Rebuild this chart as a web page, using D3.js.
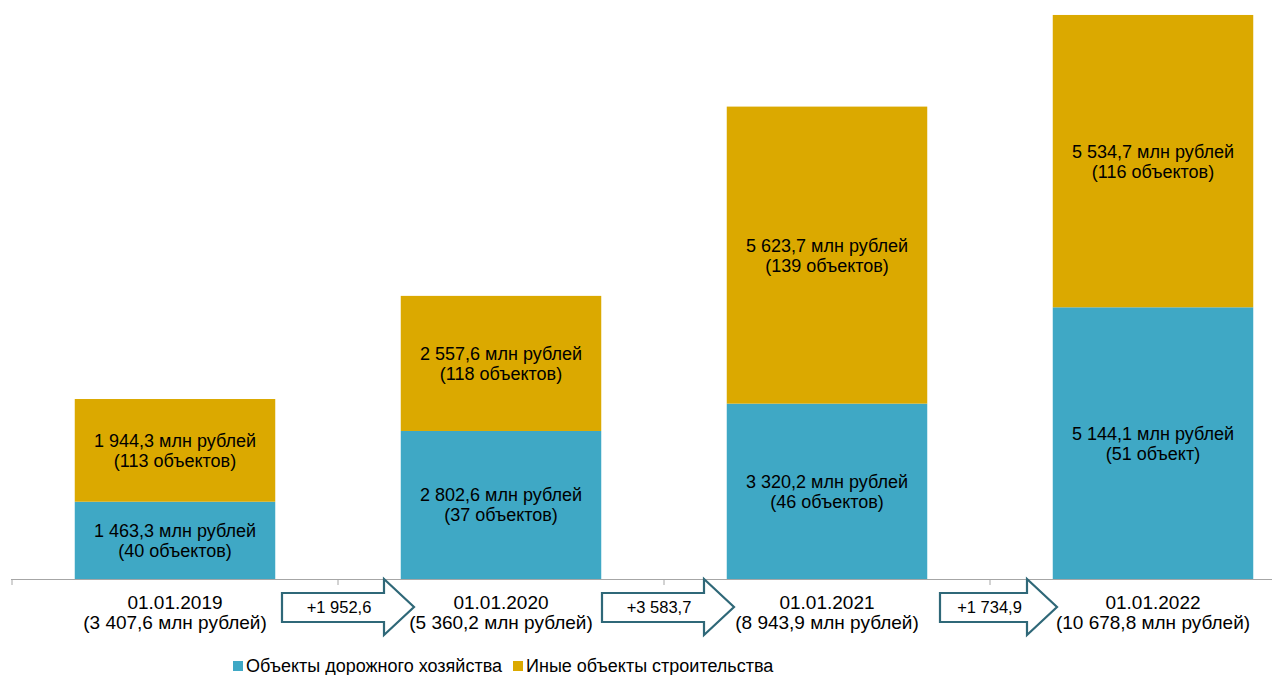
<!DOCTYPE html>
<html>
<head>
<meta charset="utf-8">
<script src="https://cdn.jsdelivr.net/npm/d3@7"></script>
<style>
  body { margin: 0; background: #fff; }
  svg text { font-family: "Liberation Sans", Arial, sans-serif; fill: #000; }
</style>
</head>
<body>
<div id="chart"></div>
<script>
(function () {
  'use strict';

  var categories = ['01.01.2019', '01.01.2020', '01.01.2021', '01.01.2022'];
  var totals = ['3 407,6', '5 360,2', '8 943,9', '10 678,8'];
  var roadValues = [1463.3, 2802.6, 3320.2, 5144.1];
  var roadCounts = ['40 объектов', '37 объектов', '46 объектов', '51 объект'];
  var otherValues = [1944.3, 2557.6, 5623.7, 5534.7];
  var otherCounts = ['113 объектов', '118 объектов', '139 объектов', '116 объектов'];
  var increments = ['+1 952,6', '+3 583,7', '+1 734,9'];
  var seriesNames = ['Объекты дорожного хозяйства', 'Иные объекты строительства'];

  var colors = ['#3fa8c5', '#dba900'];
  var fmt = function (v) {
    return d3.format(',.1f')(v).replace(/,/g, ' ').replace('.', ',');
  };

  var width = 1274, height = 675;
  var svg = d3.select('#chart').append('svg')
      .attr('width', width)
      .attr('height', height);

  // plot area runs a bit past the right edge, as in the original
  var x = d3.scaleBand()
      .domain(categories)
      .range([12, 1316])
      .paddingInner(0.385)
      .paddingOuter(0.1925);

  var y = d3.scaleLinear()
      .domain([0, 11000])
      .range([579, -2]);

  var rows = categories.map(function (c, i) {
    return { cat: c, road: roadValues[i], other: otherValues[i] };
  });
  var stack = d3.stack().keys(['road', 'other'])(rows);
  var counts = [roadCounts, otherCounts];

  stack.forEach(function (layer, k) {
    var g = svg.append('g');
    g.selectAll('rect')
      .data(layer)
      .enter().append('rect')
        .attr('x', function (d) { return x(d.data.cat); })
        .attr('y', function (d) { return y(d[1]); })
        .attr('width', x.bandwidth())
        .attr('height', function (d) { return y(d[0]) - y(d[1]); })
        .attr('fill', colors[k]);

    var t = g.selectAll('text')
      .data(layer)
      .enter().append('text')
        .attr('text-anchor', 'middle')
        .attr('font-size', 18)
        .attr('transform', function (d) {
          return 'translate(' + (x(d.data.cat) + x.bandwidth() / 2) + ',' +
            ((y(d[0]) + y(d[1])) / 2) + ')';
        });
    t.append('tspan')
      .attr('x', 0).attr('y', -3.5)
      .text(function (d) { return fmt(d.data[k === 0 ? 'road' : 'other']) + ' млн рублей'; });
    t.append('tspan')
      .attr('x', 0).attr('y', 16.5)
      .text(function (d, i) { return '(' + counts[k][i] + ')'; });
  });

  // axis line with category dividers
  svg.append('line')
    .attr('x1', 11).attr('x2', 1272)
    .attr('y1', 579.5).attr('y2', 579.5)
    .attr('stroke', '#a6a6a6').attr('stroke-width', 1.2);
  var step = x.step();
  d3.range(categories.length).forEach(function (i) {
    var bx = x(categories[0]) - (step - x.bandwidth()) / 2 + i * step;
    svg.append('line')
      .attr('x1', bx).attr('x2', bx)
      .attr('y1', 579).attr('y2', 585)
      .attr('stroke', '#a6a6a6');
  });

  // category labels
  var cl = svg.selectAll('.cat')
    .data(categories)
    .enter().append('text')
      .attr('class', 'cat')
      .attr('text-anchor', 'middle')
      .attr('font-size', 19)
      .attr('transform', function (d) {
        return 'translate(' + (x(d) + x.bandwidth() / 2) + ',0)';
      });
  cl.append('tspan').attr('x', 0).attr('y', 609).text(function (d) { return d; });
  cl.append('tspan').attr('x', 0).attr('y', 629)
    .text(function (d, i) { return '(' + totals[i] + ' млн рублей)'; });

  // growth arrows between categories
  var arrowLayout = [{ dx: -56, w: 132 }, { dx: -62, w: 132 }, { dx: -50, w: 117 }];
  increments.forEach(function (txt, i) {
    var boundary = x(categories[i + 1]) - (step - x.bandwidth()) / 2;
    var x0 = boundary + arrowLayout[i].dx, x1 = x0 + arrowLayout[i].w;
    var hx = x1 - 30;
    var pts = [[x0, 593], [hx, 593], [hx, 579], [x1, 607], [hx, 635], [hx, 622], [x0, 622]];
    svg.append('path')
      .attr('d', d3.line()(pts) + 'Z')
      .attr('fill', '#fff')
      .attr('stroke', '#2f6878')
      .attr('stroke-width', 2.2)
      .attr('stroke-linejoin', 'miter');
    svg.append('text')
      .attr('x', (x0 + hx) / 2 + 6)
      .attr('y', 613)
      .attr('text-anchor', 'middle')
      .attr('font-size', 16.5)
      .text(txt);
  });

  // legend
  var legendX = [233, 513];
  seriesNames.forEach(function (name, i) {
    svg.append('rect')
      .attr('x', legendX[i]).attr('y', 661)
      .attr('width', 10).attr('height', 10)
      .attr('fill', colors[i]);
    svg.append('text')
      .attr('x', legendX[i] + 13).attr('y', 672)
      .attr('font-size', 18)
      .text(name);
  });
}());
</script>
</body>
</html>
